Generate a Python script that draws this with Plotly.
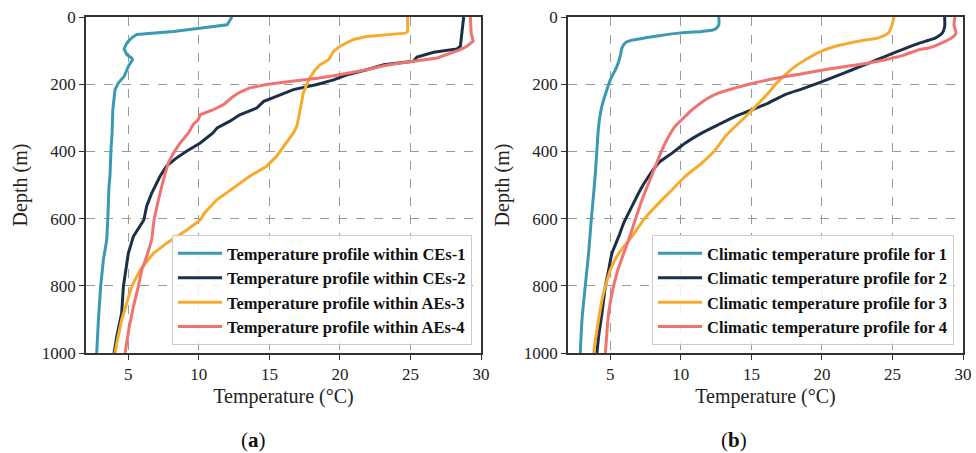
import plotly.graph_objects as go

# ---- (a) eddy profiles: depth (m) and temperature (°C) ----
ce1_depth = [0, 3, 23, 33, 43, 52, 62, 77, 95, 112, 122, 127, 147, 177, 196, 216, 246, 276, 345, 395, 474, 504, 604, 663, 723, 802, 901, 1000]
ce1_temp = [12.3, 12.3, 12.0, 10.1, 8.2, 5.6, 5.24, 4.9, 4.7, 4.9, 5.24, 5.3, 5.0, 4.7, 4.3, 4.06, 4.0, 3.9, 3.85, 3.77, 3.7, 3.63, 3.54, 3.47, 3.23, 3.04, 2.88, 2.76]

ce2_depth = [0, 18, 42, 87, 95, 105, 119, 132, 142, 157, 172, 187, 201, 216, 236, 251, 271, 291, 310, 330, 345, 375, 400, 420, 444, 474, 524, 563, 604, 653, 703, 753, 802, 881, 951, 1000]
ce2_temp = [28.77, 28.73, 28.66, 28.54, 28.3, 26.65, 25.46, 25.2, 23.1, 21.9, 20.5, 19.55, 18.37, 16.7, 15.5, 14.6, 14.1, 12.9, 12.2, 11.3, 11.0, 10.1, 9.1, 8.4, 7.7, 7.25, 6.66, 6.3, 6.1, 5.36, 5.0, 4.84, 4.65, 4.53, 4.18, 3.99]

ae3_depth = [0, 43, 48, 58, 67, 87, 102, 127, 142, 157, 186, 226, 276, 325, 345, 375, 415, 444, 474, 509, 544, 583, 604, 634, 653, 673, 703, 753, 802, 852, 901, 971, 1000]
ae3_temp = [24.8, 24.8, 24.64, 21.9, 20.97, 20.0, 19.55, 19.2, 18.6, 18.25, 17.8, 17.4, 17.18, 16.95, 16.7, 16.2, 15.5, 14.8, 13.6, 12.45, 11.27, 10.4, 10.1, 9.14, 8.43, 7.72, 6.78, 5.83, 5.24, 4.89, 4.53, 4.18, 4.06]

ae4_depth = [0, 48, 72, 87, 97, 122, 137, 145, 157, 167, 175, 182, 187, 194, 201, 211, 224, 236, 261, 276, 291, 305, 320, 345, 375, 405, 434, 484, 544, 604, 663, 713, 753, 802, 862, 921, 1000]
ae4_temp = [29.25, 29.3, 29.44, 29.0, 28.54, 26.9, 24.3, 23.1, 21.9, 20.7, 19.55, 18.4, 17.2, 16.0, 14.8, 13.6, 12.9, 12.45, 11.74, 11.03, 10.09, 9.97, 9.6, 9.26, 8.67, 8.2, 7.84, 7.49, 7.13, 6.82, 6.66, 6.3, 5.95, 5.71, 5.36, 5.07, 4.77]

# ---- (b) climatological profiles ----
cl1_depth = [0, 23, 36, 43, 48, 56, 62, 69, 77, 92, 117, 147, 187, 216, 266, 325, 395, 464, 524, 603, 703, 802, 901, 1000]
cl1_temp = [12.69, 12.69, 12.45, 11.5, 9.85, 8.43, 7.48, 6.54, 6.06, 5.83, 5.7, 5.47, 5.0, 4.76, 4.4, 4.17, 4.05, 3.94, 3.82, 3.65, 3.46, 3.22, 2.99, 2.87]

cl2_depth = [0, 28, 48, 62, 72, 82, 97, 117, 137, 157, 177, 196, 214, 231, 256, 276, 296, 320, 345, 375, 405, 434, 474, 514, 563, 613, 653, 703, 753, 802, 881, 951, 1000]
cl2_temp = [28.7, 28.7, 28.53, 28.06, 27.35, 26.6, 25.7, 24.5, 23.33, 22.15, 20.96, 19.78, 18.6, 17.4, 16.2, 15.05, 13.87, 12.69, 11.5, 10.32, 9.38, 8.43, 7.72, 7.13, 6.54, 5.95, 5.6, 5.12, 4.88, 4.65, 4.41, 4.17, 4.05]

cl3_depth = [0, 23, 48, 62, 72, 87, 105, 127, 147, 172, 196, 226, 266, 296, 325, 355, 395, 434, 474, 514, 554, 603, 653, 703, 753, 802, 842, 901, 961, 1000]
cl3_temp = [25.1, 24.97, 24.7, 24.0, 22.6, 20.96, 19.78, 18.83, 18.1, 17.4, 16.8, 16.2, 15.3, 14.6, 13.87, 13.16, 12.45, 11.5, 10.32, 9.38, 8.43, 7.37, 6.54, 5.6, 5.0, 4.65, 4.41, 4.17, 3.94, 3.82]

cl4_depth = [0, 23, 48, 62, 77, 92, 97, 115, 127, 137, 152, 160, 169, 177, 187, 198, 211, 226, 246, 276, 305, 325, 355, 395, 444, 494, 544, 603, 663, 703, 762, 822, 881, 1000]
cl4_temp = [29.43, 29.36, 29.5, 29.2, 28.5, 27.6, 26.9, 25.7, 24.5, 23.3, 20.96, 19.78, 18.6, 17.4, 16.2, 15.05, 13.87, 12.69, 11.74, 10.8, 10.08, 9.6, 9.14, 8.67, 8.2, 7.72, 7.25, 6.77, 6.3, 5.95, 5.47, 5.12, 4.88, 4.65]

colors = ["#3b9ab2", "#1b3047", "#f6ab2f", "#ef7470"]
names_a = ["Temperature profile within CEs-1", "Temperature profile within CEs-2",
           "Temperature profile within AEs-3", "Temperature profile within AEs-4"]
names_b = ["Climatic temperature profile for 1", "Climatic temperature profile for 2",
           "Climatic temperature profile for 3", "Climatic temperature profile for 4"]
x_ticks = [5, 10, 15, 20, 25, 30]
y_ticks = [0, 200, 400, 600, 800, 1000]

series_a = [(ce1_temp, ce1_depth), (ce2_temp, ce2_depth), (ae3_temp, ae3_depth), (ae4_temp, ae4_depth)]
series_b = [(cl1_temp, cl1_depth), (cl2_temp, cl2_depth), (cl3_temp, cl3_depth), (cl4_temp, cl4_depth)]

FONT = "Liberation Serif"
fig = go.Figure()

for (t, d), name, c in zip(series_a, names_a, colors):
    fig.add_trace(go.Scatter(x=t, y=d, mode="lines", name=name,
                             line=dict(color=c, width=3),
                             xaxis="x", yaxis="y", legend="legend"))
for (t, d), name, c in zip(series_b, names_b, colors):
    fig.add_trace(go.Scatter(x=t, y=d, mode="lines", name=name,
                             line=dict(color=c, width=3, shape="spline", smoothing=0.6),
                             xaxis="x2", yaxis="y2", legend="legend2"))

W, H = 976, 453
top, bottom = 17, 353
dom_y = [1 - bottom / H, 1 - top / H]

axis_common = dict(showline=True, linecolor="#333333", linewidth=1.5, mirror=True,
                   ticks="outside", ticklen=5, tickcolor="#333333", automargin=False,
                   showgrid=True, gridcolor="#9a9a9a", griddash="dash", gridwidth=0.8,
                   zeroline=False, tickfont=dict(family=FONT, size=17, color="#222"))

def xaxis(domain, anchor):
    return dict(axis_common, domain=domain, anchor=anchor, range=[2, 30],
                tickvals=x_ticks,
                title=dict(text="Temperature (°C)", font=dict(family=FONT, size=20, color="#222"),
                           standoff=6))

def yaxis(anchor):
    return dict(axis_common, domain=dom_y, anchor=anchor, range=[1000, 0],
                tickvals=y_ticks,
                title=dict(text="Depth (m)", font=dict(family=FONT, size=20, color="#222"),
                           standoff=9))

legend_common = dict(font=dict(family=FONT, size=16.5, color="#111", weight="bold"),
                     bgcolor="rgba(255,255,255,0.85)", bordercolor="#cccccc", borderwidth=1,
                     xanchor="right", yanchor="bottom", y=1 - 345 / H,
                     tracegroupgap=0, itemwidth=44)

fig.update_layout(
    width=W, height=H,
    margin=dict(l=0, r=0, t=0, b=0),
    paper_bgcolor="white", plot_bgcolor="white",
    font=dict(family=FONT, color="#222"),
    xaxis=xaxis([86 / W, 481 / W], "y"),
    yaxis=yaxis("x"),
    xaxis2=xaxis([568 / W, 963 / W], "y2"),
    yaxis2=yaxis("x2"),
    legend=dict(legend_common, x=472 / W),
    legend2=dict(legend_common, x=954 / W),
    showlegend=True,
)

for label, cx in (("a", 254), ("b", 734)):
    fig.add_annotation(text=f"(<b>{label}</b>)", x=cx / W, y=1 - 440 / H,
                       xref="paper", yref="paper", showarrow=False,
                       xanchor="center", yanchor="middle",
                       font=dict(family=FONT, size=21, color="#111"))

fig.write_html("out.html")
